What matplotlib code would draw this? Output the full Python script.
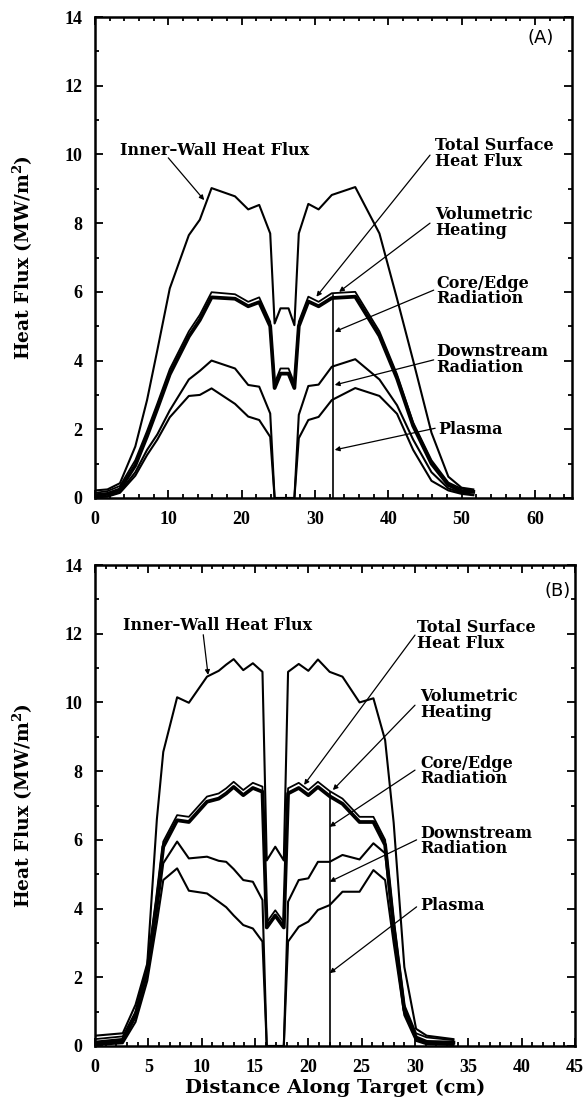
import matplotlib
matplotlib.use('Agg')
import matplotlib.pyplot as plt
from matplotlib.ticker import MultipleLocator

plt.rcParams['font.family'] = ['DejaVu Serif']
plt.rcParams['mathtext.fontset'] = 'dejavuserif'

# ===== panel A data =====
xA = [0, 1.7, 3.4, 5.5, 7.1, 8.5, 10.2, 12.8, 14.3, 15.9, 19.1, 20.9, 22.4, 23.9, 24.5,
      25.3, 26.4, 27.2, 27.8, 29.1, 30.5, 32.3, 35.5, 38.8, 41.2, 43.4, 45.9, 48.2, 50.0, 51.6]
innerA = [0.22, 0.25, 0.43, 1.5, 2.85, 4.3, 6.1, 7.65, 8.1, 9.02, 8.78, 8.4, 8.53, 7.7, 5.08,
          5.52, 5.52, 5.03, 7.7, 8.56, 8.4, 8.82, 9.05, 7.7, 5.8, 4.0, 1.9, 0.62, 0.3, 0.25]
totalA = [0.15, 0.2, 0.35, 1.1, 1.95, 2.75, 3.75, 4.85, 5.33, 5.99, 5.93, 5.71, 5.84, 5.13, 3.34,
          3.77, 3.77, 3.34, 5.13, 5.86, 5.71, 5.96, 6.0, 4.85, 3.6, 2.2, 1.1, 0.45, 0.27, 0.22]
coreA = [0.08, 0.12, 0.25, 0.95, 1.8, 2.6, 3.6, 4.7, 5.18, 5.84, 5.8, 5.58, 5.7, 5.0, 3.2,
         3.62, 3.62, 3.2, 5.0, 5.72, 5.58, 5.82, 5.86, 4.72, 3.48, 2.1, 1.0, 0.38, 0.2, 0.18]
downA = [0.03, 0.05, 0.18, 0.75, 1.4, 1.85, 2.55, 3.45, 3.7, 4.0, 3.77, 3.29, 3.24, 2.46, 0,
         0, 0, 0, 2.42, 3.26, 3.3, 3.82, 4.04, 3.45, 2.7, 1.7, 0.75, 0.28, 0.15, 0.1]
plasmaA = [0.02, 0.04, 0.15, 0.65, 1.25, 1.7, 2.35, 2.97, 3.0, 3.19, 2.74, 2.37, 2.27, 1.78, 0,
           0, 0, 0, 1.74, 2.27, 2.36, 2.85, 3.2, 2.97, 2.45, 1.4, 0.5, 0.22, 0.12, 0.08]
markA_x, markA_top = 32.5, 5.9

# ===== panel B data =====
xB = [0, 2.6, 3.8, 4.9, 5.8, 6.4, 7.7, 8.8, 10.5, 11.6, 12.3, 13.0, 13.9, 14.8, 15.7, 16.1,
      16.9, 17.7, 18.1, 19.1, 20.0, 20.9, 22.0, 23.2, 24.8, 26.1, 27.2, 28.0, 29.0, 30.1, 31.1, 33.6]
innerB = [0.3, 0.37, 1.2, 2.4, 6.6, 8.56, 10.15, 9.99, 10.75, 10.92, 11.1, 11.26, 10.94, 11.14, 10.89, 5.4,
          5.8, 5.4, 10.89, 11.12, 10.92, 11.25, 10.89, 10.75, 10.0, 10.12, 8.9, 6.5, 2.3, 0.5, 0.3, 0.2]
totalB = [0.2, 0.28, 1.0, 2.3, 4.4, 5.95, 6.72, 6.67, 7.26, 7.35, 7.5, 7.69, 7.45, 7.66, 7.55, 3.6,
          3.95, 3.6, 7.5, 7.66, 7.45, 7.69, 7.42, 7.2, 6.67, 6.67, 6.0, 3.67, 1.2, 0.37, 0.25, 0.17]
coreB = [0.1, 0.18, 0.9, 2.2, 4.25, 5.8, 6.57, 6.52, 7.11, 7.2, 7.35, 7.54, 7.3, 7.51, 7.4, 3.45,
         3.8, 3.45, 7.35, 7.51, 7.3, 7.54, 7.27, 7.05, 6.52, 6.52, 5.85, 3.5, 1.05, 0.25, 0.12, 0.1]
downB = [0.05, 0.12, 0.85, 2.1, 3.9, 5.32, 5.95, 5.46, 5.51, 5.39, 5.36, 5.15, 4.83, 4.78, 4.25, 0,
         0, 0, 4.2, 4.83, 4.88, 5.36, 5.36, 5.56, 5.43, 5.9, 5.61, 3.3, 1.0, 0.2, 0.08, 0.05]
plasmaB = [0.03, 0.08, 0.7, 1.9, 3.6, 4.83, 5.17, 4.52, 4.44, 4.2, 4.04, 3.8, 3.52, 3.42, 3.04, 0,
           0, 0, 3.04, 3.47, 3.62, 3.96, 4.1, 4.49, 4.49, 5.12, 4.83, 3.0, 0.9, 0.15, 0.05, 0.03]
markB_x, markB_top = 22.0, 7.4

# ===== labels =====
side_labels = ["Total Surface\nHeat Flux", "Volumetric\nHeating", "Core/Edge\nRadiation",
               "Downstream\nRadiation", "Plasma"]
inner_label = "Inner\u2013Wall Heat Flux"
ylabel = "Heat Flux (MW/m$^\\mathbf{2}$)"
xlabel = "Distance Along Target (cm)"

# text anchor (x, y) and arrow (start, end) per label, data coords
textA = [(46.4, 10.5), (46.4, 8.5), (46.6, 6.5), (46.6, 4.5), (46.8, 2.0)]
arrowA = [((45.7, 9.98), (30.2, 5.86)), ((45.7, 8.0), (33.3, 6.0)), ((46.2, 6.05), (32.7, 4.84)),
          ((46.2, 4.02), (32.7, 3.29)), ((46.4, 2.03), (32.7, 1.40))]
textB = [(30.2, 12.42), (30.5, 10.42), (30.5, 8.48), (30.5, 6.44), (30.5, 4.1)]
arrowB = [((30.0, 11.96), (19.6, 7.6)), ((30.0, 9.92), (22.3, 7.45)), ((30.0, 8.03), (22.0, 6.38)),
          ((30.15, 6.0), (22.0, 4.78)), ((30.15, 4.05), (22.0, 2.12))]


def style_axes(ax, xmax, xmajor):
    ax.set_xlim(0, xmax)
    ax.set_ylim(0, 14)
    ax.xaxis.set_major_locator(MultipleLocator(xmajor))
    ax.xaxis.set_minor_locator(MultipleLocator(xmajor / 5))
    ax.yaxis.set_major_locator(MultipleLocator(2))
    ax.yaxis.set_minor_locator(MultipleLocator(1))
    ax.tick_params(which='both', direction='in', top=True, right=True, width=1.3)
    ax.tick_params(which='major', length=6, pad=9)
    ax.tick_params(which='minor', length=3)
    for lab in ax.get_xticklabels() + ax.get_yticklabels():
        lab.set_family('Liberation Serif')
        lab.set_fontweight('bold')
        lab.set_fontsize(13)
    for s in ax.spines.values():
        s.set_linewidth(1.8)
    ax.set_ylabel(ylabel, fontsize=13.5, fontweight='bold')
    ax.yaxis.set_label_coords(-0.125, 0.5)


def draw_panel(ax, x, inner, total, core, down, plasma, mx, mtop):
    ax.plot(x, inner, color='black', lw=1.5)
    ax.plot(x, total, color='black', lw=1.3)
    ax.plot(x, core, color='black', lw=2.7)
    ax.plot(x, down, color='black', lw=1.5)
    ax.plot(x, plasma, color='black', lw=1.5)
    ax.plot([mx, mx], [0, mtop], color='black', lw=1.2)


def label_panel(ax, texts, arrows):
    for lab, (tx, ty), (a0, a1) in zip(side_labels, texts, arrows):
        va = 'center' if lab == "Plasma" else 'top'
        ax.text(tx, ty, lab, fontsize=11.5, fontweight='bold', ha='left', va=va, linespacing=0.9)
        ax.annotate('', xy=a1, xytext=a0,
                    arrowprops=dict(arrowstyle='-|>', lw=0.9, color='black',
                                    mutation_scale=7, shrinkA=0, shrinkB=0))


fig = plt.figure(figsize=(5.87, 11.02), dpi=100)
axA = fig.add_axes([95 / 587, 1 - 498 / 1102, 476.5 / 587, 481 / 1102])
axB = fig.add_axes([95 / 587, 1 - 1046 / 1102, 480 / 587, 481 / 1102])

# ===== panel A =====
draw_panel(axA, xA, innerA, totalA, coreA, downA, plasmaA, markA_x, markA_top)
style_axes(axA, 65, 10)
label_panel(axA, textA, arrowA)
axA.text(3.4, 10.1, inner_label, fontsize=11.5, fontweight='bold', va='center')
axA.annotate('', xy=(14.9, 8.67), xytext=(10.0, 9.9),
             arrowprops=dict(arrowstyle='-|>', lw=0.9, color='black', mutation_scale=7,
                             shrinkA=0, shrinkB=0))
axA.text(62.6, 13.4, "(A)", family='DejaVu Sans', fontsize=13, ha='right', va='center')

# ===== panel B =====
draw_panel(axB, xB, innerB, totalB, coreB, downB, plasmaB, markB_x, markB_top)
style_axes(axB, 45, 5)
label_panel(axB, textB, arrowB)
axB.text(2.65, 12.24, inner_label, fontsize=11.5, fontweight='bold', va='center')
axB.annotate('', xy=(10.6, 10.8), xytext=(10.15, 11.97),
             arrowprops=dict(arrowstyle='-|>', lw=0.9, color='black', mutation_scale=7,
                             shrinkA=0, shrinkB=0))
axB.text(44.6, 13.24, "(B)", family='DejaVu Sans', fontsize=13, ha='right', va='center')
axB.set_xlabel(xlabel, fontsize=14, fontweight='bold', labelpad=2)

fig.savefig('out.png', dpi=100)
